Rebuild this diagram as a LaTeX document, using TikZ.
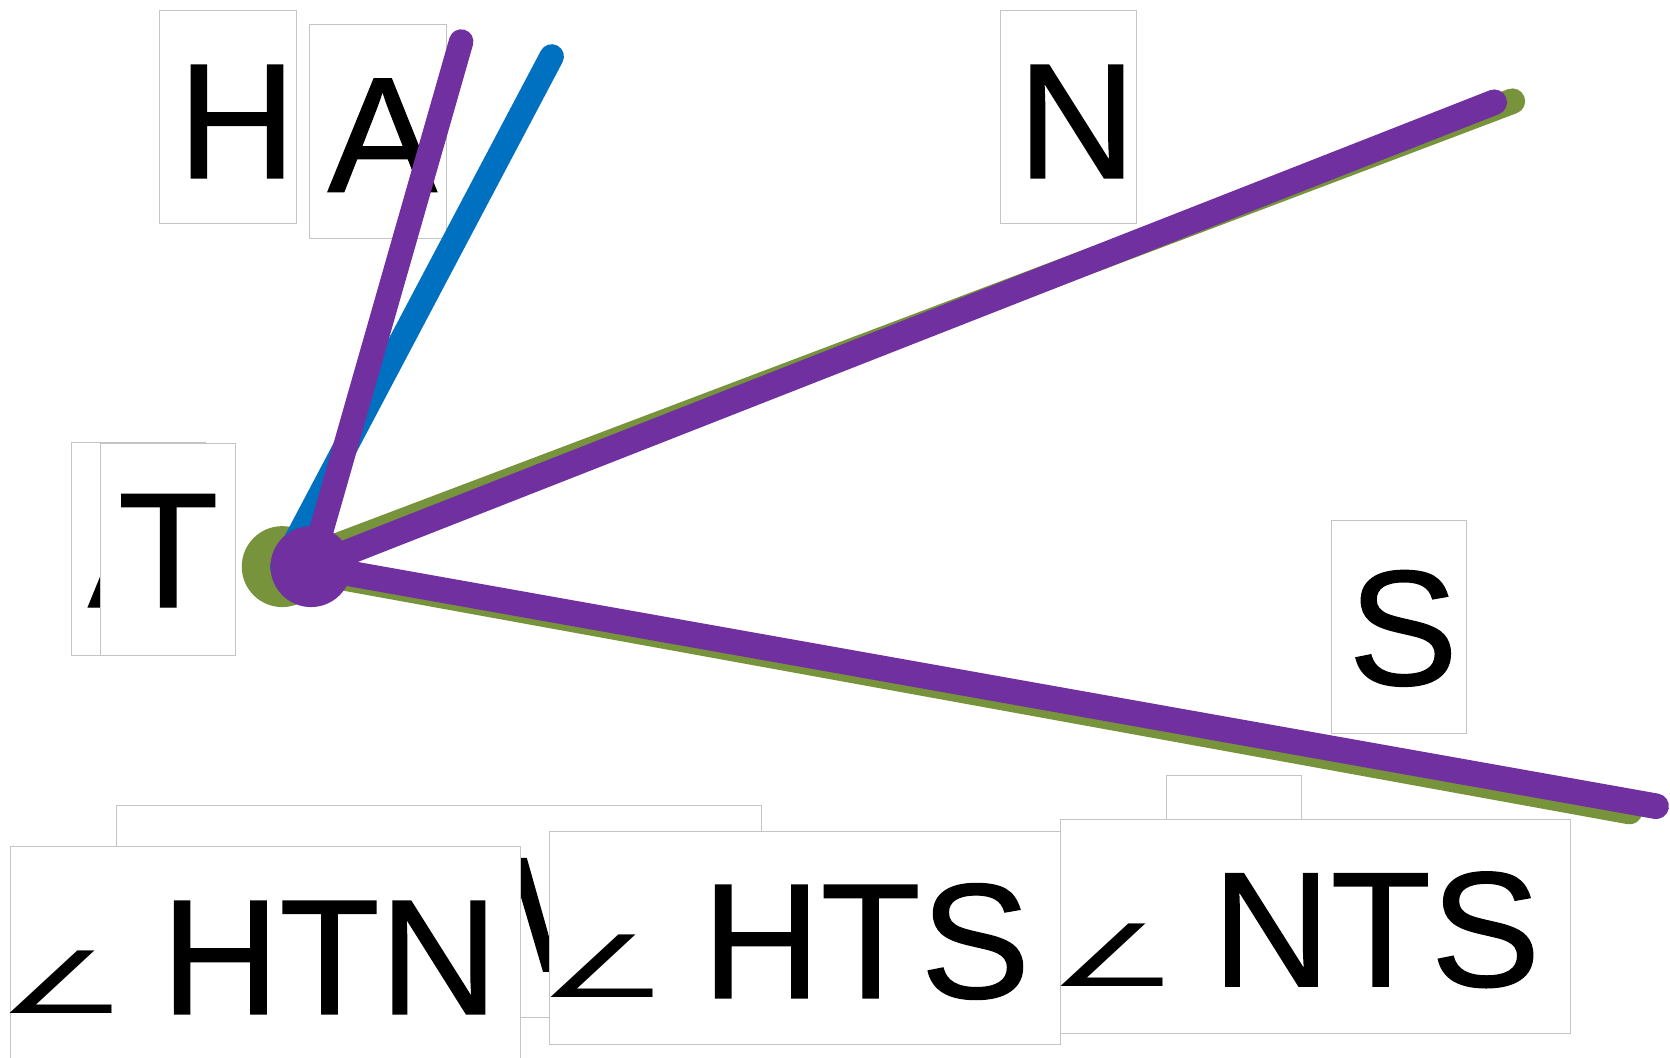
\documentclass[tikz,border=0pt]{standalone}
\usepackage{fontspec}
\setmainfont{Liberation Sans}
\newfontfamily\lblfont[FakeBold=0.8]{Liberation Sans}
\newfontfamily\symfont{DejaVu Sans}
\usepackage{graphicx}
\definecolor{olivegr}{HTML}{77933C}
\definecolor{purp}{HTML}{7030A0}
\definecolor{blu}{HTML}{0070C0}
\definecolor{boxgray}{HTML}{C4C4C4}
\newlength\angb
\setlength\angb{12.4pt}
\newcommand\angl{\makebox[141pt][l]{\hspace{-\angb}\scalebox{0.95}[0.56]{\fontsize{144}{144}\selectfont\symfont ∠}}}
\begin{document}
\begin{tikzpicture}[x=1pt,y=-1pt,
  box/.style={draw=boxgray, line width=0.9pt, fill=white, inner sep=0pt, outer sep=0pt},
  lbl/.style={inner sep=0pt, anchor=base, font=\fontsize{154}{154}\selectfont\lblfont},
  albl/.style={inner sep=0pt, anchor=base west, font=\fontsize{154}{154}\selectfont\lblfont},
  ray/.style={line width=24pt, line cap=round},
  thinray/.style={line width=23pt, line cap=round},
  dot/.style={circle, inner sep=0pt, outer sep=0pt, minimum size=76pt}]
\useasboundingbox (0,0) rectangle (1568,993);
% point labels
\node[box, minimum width=128pt, minimum height=200pt] (hbox) at (214,110) {};
\node[lbl] (hlab) at (222.5,167) {H};
\node[box, minimum width=128pt, minimum height=201pt] (abox) at (355,123.5) {};
\node[lbl] (alab) at (359,180) {A};
\node[box, minimum width=128pt, minimum height=200pt] (nbox) at (1003,110) {};
\node[lbl] (nlab) at (1011,167) {N};
\node[box, minimum width=126pt, minimum height=200pt] (abackbox) at (130,515) {};
\node[lbl] (abacklab) at (134,570) {A};
\node[box, minimum width=127pt, minimum height=199pt] (tbox) at (157.5,515.5) {};
\node[lbl] (tlab) at (158,570) {T};
\node[box, minimum width=127pt, minimum height=200pt] (sbox) at (1313.5,589) {};
\node[lbl] (slab) at (1317.5,643) {S};
\node[box, minimum width=127pt, minimum height=200pt] (wbox) at (1158.5,828) {};
\node[lbl] (wlab) at (1158.5,885) {W};
% angle labels
\node[box, minimum width=606pt, minimum height=199pt] (backbox) at (412,855.5) {};
\node[albl] (backlab) at (132,912) {\angl HTW};
\node[box, minimum width=479pt, minimum height=200pt] (htnbox) at (249.5,895) {};
\node[albl] (htnlab) at (10,952) {\angl HTN};
\node[box, minimum width=480pt, minimum height=200pt] (htsbox) at (756,881) {};
\node[albl] (htslab) at (518,937) {\angl HTS};
\node[box, minimum width=479pt, minimum height=201pt] (ntsbox) at (1235.5,869.5) {};
\node[albl] (ntslab) at (997,926) {\angl NTS};
% rays
\coordinate (gN) at (1420,95);
\coordinate (gS) at (1530,762);
\coordinate (bH) at (518,53);
\coordinate (pA) at (433,39);
\coordinate (pN) at (1403,96);
\coordinate (pS) at (1555,757);
\node[dot, fill=olivegr] (tg) at (265,532) {};
\draw[ray, olivegr] (tg.center) -- (gN);
\draw[ray, olivegr] (tg.center) -- (gS);
\draw[thinray, blu] (tg.center) -- (bH);
\node[dot, fill=purp] (tp) at (292,532) {};
\draw[thinray, purp] (tp.center) -- (pA);
\draw[ray, purp] (tp.center) -- (pN);
\draw[ray, purp] (tp.center) -- (pS);
\end{tikzpicture}
\end{document}
